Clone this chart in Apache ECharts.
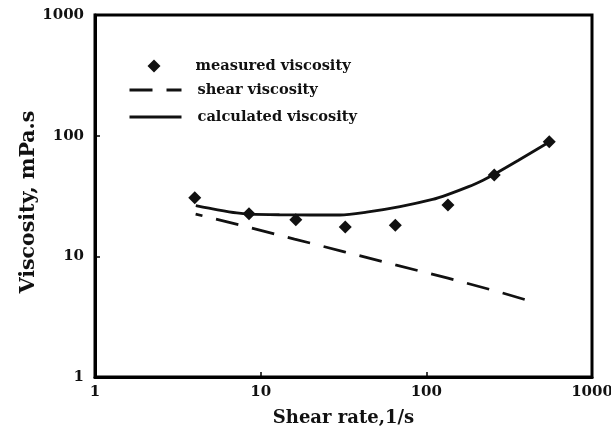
<!DOCTYPE html>
<html>
<head>
<meta charset="utf-8">
<script src="https://cdn.jsdelivr.net/npm/echarts@6/dist/echarts.min.js"></script>
<style>
  html, body { margin: 0; padding: 0; background: #fff; }
  #chart { width: 611px; height: 434px; }
</style>
</head>
<body>
<div id="chart"></div>
<script>
// Shear rate (1/s) and measured viscosity (mPa.s)
const measuredRate = [4.0, 8.5, 16.3, 32.4, 65, 135, 257, 552];
const measuredVisc = [30.6, 22.5, 20.1, 17.5, 18.1, 26.6, 47.2, 89];

// Shear (power-law) viscosity
const shearRate = [4.05, 8.5, 16, 32, 65, 135, 257, 457];
const shearVisc = [22.4, 17.4, 13.9, 10.9, 8.5, 6.6, 5.2, 4.13];

// Calculated viscosity curve
const calcRate = [4.06, 5.5, 7.17, 8.62, 13, 19.8, 30.1, 43.6, 69.4, 109, 134.5, 180, 220, 254, 360, 555];
const calcVisc = [26.3, 24.3, 22.9, 22.4, 22.1, 22.0, 22.0, 23.2, 25.8, 29.6, 32.5, 37.8, 42.8, 47.4, 62.5, 89];

const axisTicks = [1, 10, 100, 1000];

const pairs = (xs, ys) => xs.map((x, i) => [x, ys[i]]);

const serif = 'DejaVu Serif';
const ink = '#111';

const chart = echarts.init(document.getElementById('chart'), null, { renderer: 'canvas' });

const legendText = (pad) => ({
  fontFamily: serif, fontWeight: 'bold', fontSize: 14.6, color: ink, padding: [0, 0, 0, pad]
});

const legendBase = {
  orient: 'vertical',
  padding: 0,
  itemHeight: 13,
  selectedMode: false,
  lineStyle: { dashOffset: 0, width: 3 },
  itemStyle: { color: 'transparent', borderColor: 'transparent', borderWidth: 0 }
};

const tickLabel = {
  fontFamily: serif, fontWeight: 'bold', fontSize: 15, color: ink,
  formatter: (v) => String(Math.round(v))
};

chart.setOption({
  animation: false,
  backgroundColor: '#fff',
  grid: {
    left: 95, right: 19, top: 15, bottom: 57,
    outerBoundsMode: 'none',
    containLabel: false,
    show: true, borderColor: '#000', borderWidth: 3, backgroundColor: 'transparent'
  },
  legend: [
    {
      orient: 'vertical', padding: 0, itemHeight: 13, selectedMode: false,
      left: 147.5, top: 58.5, itemWidth: 13, textStyle: legendText(30),
      data: [{ name: 'measured viscosity', icon: 'diamond' }]
    },
    Object.assign({}, legendBase, {
      left: 128, top: 82.5, itemWidth: 52, textStyle: legendText(11),
      data: ['shear viscosity']
    }),
    Object.assign({}, legendBase, {
      left: 128, top: 109.5, itemWidth: 52, textStyle: legendText(11),
      data: ['calculated viscosity']
    })
  ],
  xAxis: {
    type: 'log', logBase: 10,
    min: axisTicks[0], max: axisTicks[axisTicks.length - 1],
    name: 'Shear rate,1/s', nameLocation: 'middle', nameGap: 32,
    nameMoveOverlap: false,
    nameTextStyle: { fontFamily: serif, fontWeight: 'bold', fontSize: 18, color: ink },
    axisLine: { show: true, lineStyle: { color: '#000', width: 3 } },
    axisTick: { show: true, inside: true, length: 5, lineStyle: { color: '#000', width: 1.5 } },
    minorTick: { show: false },
    splitLine: { show: false },
    axisLabel: Object.assign({ margin: 8 }, tickLabel)
  },
  yAxis: {
    type: 'log', logBase: 10,
    min: axisTicks[0], max: axisTicks[axisTicks.length - 1],
    name: 'Viscosity, mPa.s', nameLocation: 'middle', nameGap: 56,
    nameMoveOverlap: false,
    nameTextStyle: {
      fontFamily: serif, fontWeight: 'bold', fontSize: 20.5, color: ink,
      padding: [0, 12, 0, 0]
    },
    axisLine: { show: true, lineStyle: { color: '#000', width: 3 } },
    axisTick: { show: true, inside: true, length: 5, lineStyle: { color: '#000', width: 1.5 } },
    minorTick: { show: false },
    splitLine: { show: false },
    axisLabel: Object.assign({ margin: 11 }, tickLabel)
  },
  series: [
    {
      name: 'measured viscosity',
      type: 'scatter',
      symbol: 'diamond',
      symbolSize: 13,
      itemStyle: { color: ink, opacity: 1 },
      data: pairs(measuredRate, measuredVisc),
      z: 5
    },
    {
      name: 'shear viscosity',
      type: 'line',
      symbol: 'none',
      lineStyle: { color: ink, width: 2.7, type: [23, 14], dashOffset: 16 },
      itemStyle: { color: ink },
      data: pairs(shearRate, shearVisc)
    },
    {
      name: 'calculated viscosity',
      type: 'line',
      symbol: 'none',
      smooth: 0.3,
      lineStyle: { color: ink, width: 2.8 },
      itemStyle: { color: ink },
      data: pairs(calcRate, calcVisc)
    }
  ]
});
</script>
</body>
</html>
